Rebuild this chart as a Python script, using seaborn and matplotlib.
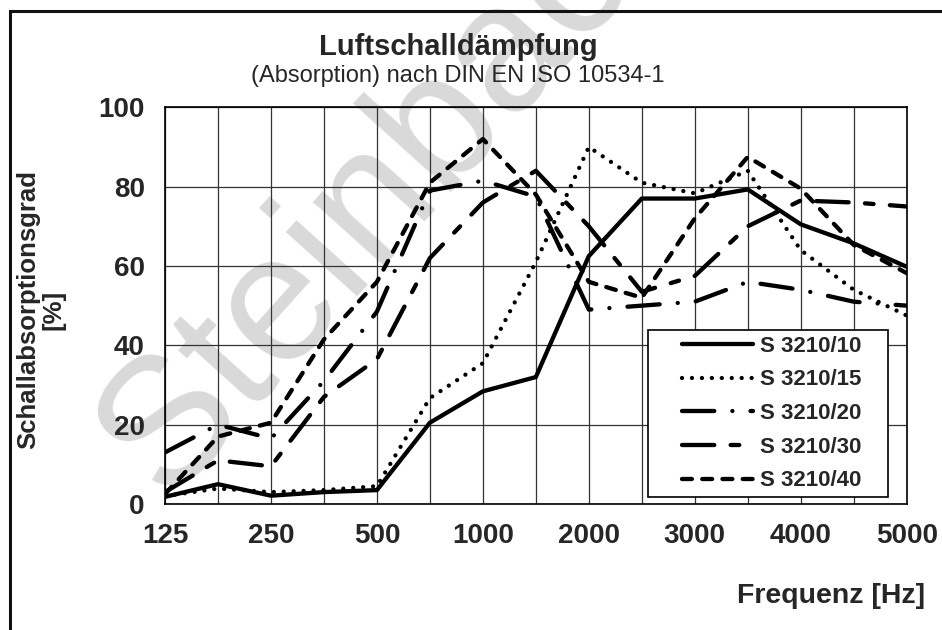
import matplotlib.pyplot as plt
import matplotlib.patches as mpatches
import pandas as pd
import seaborn as sns

# x axis: 15 equally spaced band positions, only every second one labelled
freq_labels = ["125", "", "250", "", "500", "", "1000", "",
               "2000", "", "3000", "", "4000", "", "5000"]

# absorption in %
s3210_10 = [1.8, 5.0, 2.1, 3.0, 3.5, 20.5, 28.4, 32.0, 62.5, 77.0, 77.0, 79.3, 70.5, 65.7, 59.8]
s3210_15 = [2.0, 3.9, 3.0, 3.5, 4.5, 26.7, 35.5, 61.0, 90.0, 81.0, 78.3, 84.0, 64.0, 54.0, 47.5]
s3210_20 = [13.0, 20.0, 16.5, 31.0, 48.5, 79.0, 81.5, 77.5, 49.0, 50.0, 51.0, 56.0, 54.0, 51.0, 50.0]
s3210_30 = [3.0, 11.0, 9.5, 27.0, 36.5, 62.0, 76.0, 84.0, 70.0, 53.5, 57.5, 70.0, 76.5, 76.0, 75.0]
s3210_40 = [2.5, 17.0, 20.5, 41.5, 56.0, 81.0, 92.0, 78.0, 56.0, 52.0, 72.0, 87.5, 79.5, 65.3, 58.2]

products = ["S 3210/10", "S 3210/15", "S 3210/20", "S 3210/30", "S 3210/40"]


def main():
    df = pd.DataFrame({
        "pos": range(len(freq_labels)),
        "S 3210/10": s3210_10,
        "S 3210/15": s3210_15,
        "S 3210/20": s3210_20,
        "S 3210/30": s3210_30,
        "S 3210/40": s3210_40,
    })

    sns.set_style("white")
    plt.rcParams["font.family"] = ["Liberation Sans", "DejaVu Sans"]
    plt.rcParams["font.weight"] = "bold"

    fig = plt.figure(figsize=(9.42, 6.3), dpi=100, facecolor="white")
    ax = fig.add_axes([165 / 942, 1 - 504 / 630, 741.7 / 942, 396.7 / 630])
    ax.patch.set_alpha(0)

    # watermark behind everything (runs off the top edge like the original)
    fig.text(400 / 942, 1 - 170 / 630, "Steinbach", fontsize=130,
             fontweight="normal", color="#d9d9d9", rotation=48,
             ha="center", va="center", rotation_mode="anchor", zorder=-1)

    styles = [
        "-",
        (0, (0.01, 2.3)),
        (0, (7.5, 4.2, 0.01, 4.2)),
        (0, (7.5, 3.8, 2.0, 3.8)),
        (0, (2.3, 2.4)),
    ]
    for name, ls in zip(products, styles):
        sns.lineplot(data=df, x="pos", y=name, ax=ax, color="black", lw=3.1,
                     linestyle=ls, dash_capstyle="round",
                     solid_capstyle="round", label=name, zorder=3)

    ax.set_xlim(0, 14)
    ax.set_ylim(0, 100)
    ax.set_xticks(range(len(freq_labels)))
    ax.set_xticklabels(freq_labels)
    ax.set_yticks([0, 20, 40, 60, 80, 100])
    ax.tick_params(axis="both", direction="out", length=6.5, width=1,
                   color="#222222", labelsize=20, pad=7)
    ax.tick_params(axis="y", pad=8)
    ax.grid(True, color="#333333", lw=0.9)
    for sp in ax.spines.values():
        sp.set_color("black")
        sp.set_linewidth(1.2)

    ax.set_xlabel("")
    ax.set_ylabel("Schallabsorptionsgrad\n[%]", fontsize=18.5,
                  fontweight="bold", linespacing=1.05)
    ax.yaxis.set_label_coords(-0.134, 0.49)

    # legend box drawn separately to get the wide padding of the original
    box = mpatches.Rectangle((0.651, 0.0176), 0.324, 0.421,
                             transform=ax.transAxes, facecolor="white",
                             edgecolor="black", lw=1.2, zorder=4.5)
    ax.add_patch(box)
    leg = ax.legend(loc="center", bbox_to_anchor=(0.818, 0.228),
                    frameon=False, prop={"weight": "bold", "size": 16},
                    handlelength=3.2, handletextpad=0.3, labelspacing=0.57,
                    borderpad=0.2)
    leg.set_zorder(5)

    fig.text(458 / 942, 1 - 55 / 630, "Luftschalldämpfung", fontsize=21,
             fontweight="bold", ha="center", va="baseline")
    fig.text(458 / 942, 1 - 82 / 630, "(Absorption) nach DIN EN ISO 10534-1",
             fontsize=17, fontweight="normal", ha="center", va="baseline")
    fig.text(925 / 942, 1 - 603 / 630, "Frequenz [Hz]", fontsize=20.5,
             fontweight="bold", ha="right", va="baseline")

    # outer frame, clipped at the right and bottom like the original
    frame = mpatches.Rectangle((10 / 942, -0.2), 1.2, 1.2 - 11 / 630,
                               transform=fig.transFigure, fill=False,
                               edgecolor="#111111", lw=2.2)
    fig.patches.append(frame)

    fig.savefig("out.png", dpi=100, facecolor="white")


if __name__ == "__main__":
    main()
